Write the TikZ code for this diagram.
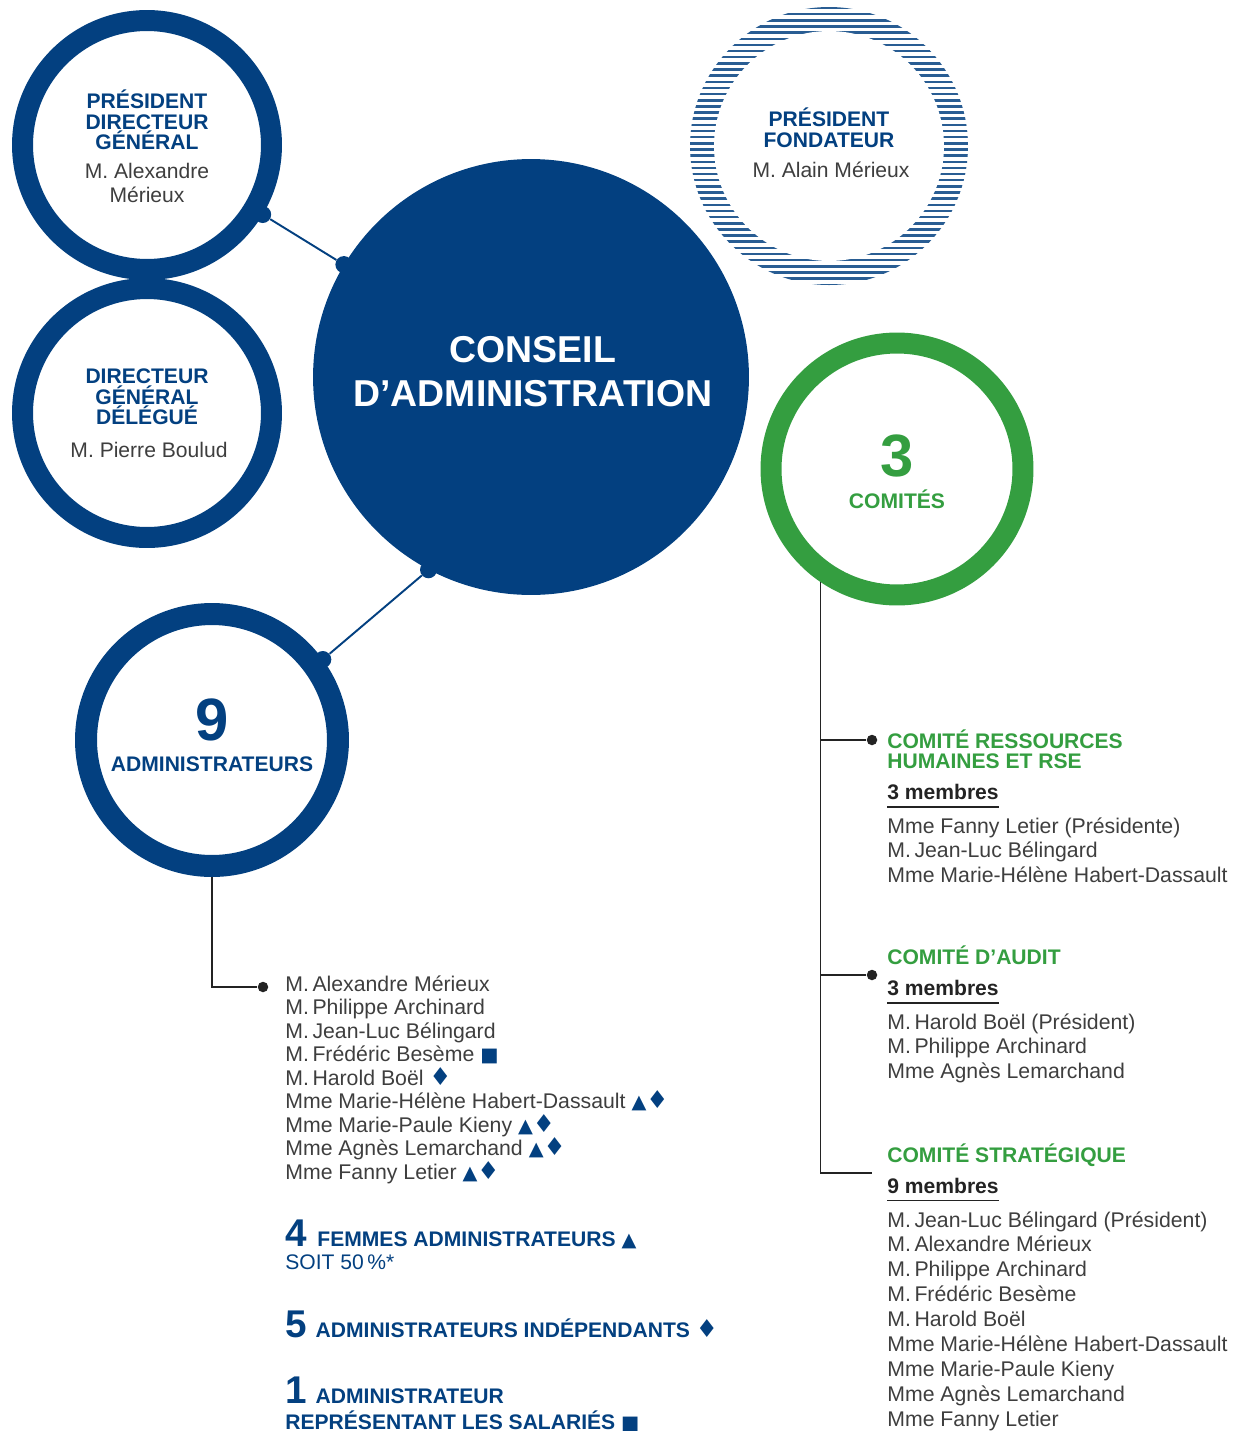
\documentclass[tikz,border=0pt]{standalone}
\usepackage{fontspec}
\setmainfont{Liberation Sans}
\newfontfamily\symfont{DejaVu Sans}
\usetikzlibrary{positioning,calc}
\definecolor{mxblue}{RGB}{3,64,128}
\definecolor{mxgreen}{RGB}{52,158,64}
\definecolor{mxgrey}{RGB}{62,62,62}
\definecolor{mxline}{RGB}{35,35,35}
\newcommand{\tri}{{\symfont\fontsize{11}{11}\selectfont\color{mxblue}▲}}
\newcommand{\dia}{{\symfont\fontsize{14}{14}\selectfont\color{mxblue}♦}}
\newcommand{\sqr}{{\symfont\fontsize{11}{11}\selectfont\color{mxblue}■}}

\begin{document}
\begin{tikzpicture}[
  x=0.02cm, y=-0.02cm,
  every node/.style={inner sep=0pt},
  ringnode/.style={circle, draw=mxblue, line width=0.42cm, minimum size=4.98cm},
  headtxt/.style={text=mxblue, align=center, font=\bfseries\fontsize{12}{11.7}\selectfont},
  nametxt/.style={text=mxgrey, align=center, font=\fontsize{12}{13.7}\selectfont},
  listtxt/.style={text=mxgrey, align=left, font=\fontsize{12.1}{13.4}\selectfont},
  comtitle/.style={text=mxgreen, align=left, font=\bfseries\fontsize{12}{11.7}\selectfont},
  membtxt/.style={text=mxline, font=\bfseries\fontsize{12}{12}\selectfont, inner ysep=4pt},
  bigdigit/.style={font=\bfseries\fontsize{34}{34}\selectfont},
  statstxt/.style={text=mxblue, align=left, font=\bfseries\fontsize{12}{12}\selectfont},
  linkline/.style={draw=mxblue, line width=1.1pt},
  linkdot/.style={circle, fill=mxblue, minimum size=0.34cm},
  treeline/.style={draw=mxline, line width=0.7pt},
  treedot/.style={circle, fill=mxline, minimum size=0.21cm},
  stripeline/.style={draw=mxblue!85, line width=0.05cm}
]
\useasboundingbox (0,0) rectangle (1234,1431);

% rings
\node[ringnode] (pdg) at (147,145) {};
\node[ringnode] (dgd) at (147,413) {};
\node[ringnode, minimum size=5.04cm, line width=0.44cm] (adm) at (212,740) {};
\node[ringnode, draw=mxgreen, minimum size=5.04cm] (com) at (897,469) {};
\node[circle, fill=mxblue, minimum size=8.72cm] (conseil) at (531,377) {};

% striped ring
\begin{scope}
  \clip (829,146) circle (139);
  \foreach \k in {0,...,46}
    \draw[stripeline] (680,{8+6.15*\k}) -- (980,{8+6.15*\k});
  \fill[white] (829,146) circle (115);
\end{scope}

% texts in circles
\node[headtxt] (pdgt) at (147,120) {PRÉSIDENT\\DIRECTEUR\\GÉNÉRAL};
\node[nametxt] (pdgn) at (147,183) {M. Alexandre\\Mérieux};
\node[headtxt] (dgdt) at (147,397) {DIRECTEUR\\GÉNÉRAL\\DÉLÉGUÉ};
\node[nametxt] (dgdn) at (149,450) {M. Pierre Boulud};
\node[headtxt] (fndt) at (829,128) {PRÉSIDENT\\FONDATEUR};
\node[nametxt] (fndn) at (831,170) {M. Alain Mérieux};
\node[text=white, align=center, font=\bfseries\fontsize{21.3}{25}\selectfont]
  (cst) at (533,372) {CONSEIL\\D’ADMINISTRATION};
\node[bigdigit, text=mxgreen] (comn) at (897,456) {3};
\node[headtxt, text=mxgreen] (comt) at (897,499) {COMITÉS};
\node[bigdigit, text=mxblue] (admn) at (212,720) {9};
\node[headtxt] (admt) at (212,764) {ADMINISTRATEURS};

% links
\node[linkdot] (l1a) at (pdg.-31) {};
\node[linkdot] (l1b) at (conseil.149) {};
\draw[linkline] (l1a) -- (l1b);
\node[linkdot] (l2a) at (conseil.-118) {};
\node[linkdot] (l2b) at (adm.36) {};
\draw[linkline] (l2a) -- (l2b);

% administrateurs
\node[treedot] (ad) at (263,987) {};
\draw[treeline] (adm.south) |- (ad);
\node[listtxt, anchor=north west] (adlist) at (285,975) {%
  M.\,Alexandre Mérieux\\
  M.\,Philippe Archinard\\
  M.\,Jean-Luc Bélingard\\
  M.\,Frédéric Besème \sqr\\
  M.\,Harold Boël \dia\\
  Mme Marie-Hélène Habert-Dassault \tri\dia\\
  Mme Marie-Paule Kieny \tri\dia\\
  Mme Agnès Lemarchand \tri\dia\\
  Mme Fanny Letier \tri\dia};

\node[statstxt, anchor=base west] (st1) at (285,1246)
  {{\fontsize{22}{22}\selectfont 4}\hspace{6pt}FEMMES ADMINISTRATEURS \tri};
\node[statstxt, anchor=base west, font=\fontsize{12}{12}\selectfont] (st1b) at (285,1269) {SOIT 50\,\%*};
\node[statstxt, anchor=base west] (st2) at (285,1337)
  {{\fontsize{22}{22}\selectfont 5}\hspace{5pt}ADMINISTRATEURS INDÉPENDANTS \dia};
\node[statstxt, anchor=base west] (st3) at (285,1403)
  {{\fontsize{22}{22}\selectfont 1}\hspace{5pt}ADMINISTRATEUR};
\node[statstxt, anchor=base west] (st3b) at (285,1429) {REPRÉSENTANT LES SALARIÉS \sqr};

% comites
\node[treedot] (c1) at (872,740) {};
\node[treedot] (c2) at (872,975) {};
\coordinate (c3) at (872,1173);
\draw[treeline] (com.-124.5) |- (c3);
\draw[treeline] (com.-124.5 |- c1) -- (c1);
\draw[treeline] (com.-124.5 |- c2) -- (c2);

\node[comtitle, anchor=north west] (c1t) at (887,729) {COMITÉ RESSOURCES\\HUMAINES ET RSE};
\node[membtxt, anchor=base west] (c1m) at (887,799) {3 membres};
\draw[treeline, line width=1pt] (c1m.south west) -- (c1m.south east);
\node[listtxt, anchor=north west, font=\fontsize{12.1}{14.2}\selectfont] (c1l) at (887,817) {%
  Mme Fanny Letier (Présidente)\\
  M.\,Jean-Luc Bélingard\\
  Mme Marie-Hélène Habert-Dassault};

\node[comtitle, anchor=base west] (c2t) at (887,964) {COMITÉ D’AUDIT};
\node[membtxt, anchor=base west] (c2m) at (887,995) {3 membres};
\draw[treeline, line width=1pt] (c2m.south west) -- (c2m.south east);
\node[listtxt, anchor=north west, font=\fontsize{12.1}{14.2}\selectfont] (c2l) at (887,1013) {%
  M.\,Harold Boël (Président)\\
  M.\,Philippe Archinard\\
  Mme Agnès Lemarchand};

\node[comtitle, anchor=base west] (c3t) at (887,1162) {COMITÉ STRATÉGIQUE};
\node[membtxt, anchor=base west] (c3m) at (887,1193) {9 membres};
\draw[treeline, line width=1pt] (c3m.south west) -- (c3m.south east);
\node[listtxt, anchor=north west, font=\fontsize{12.1}{14.2}\selectfont] (c3l) at (887,1211) {%
  M.\,Jean-Luc Bélingard (Président)\\
  M.\,Alexandre Mérieux\\
  M.\,Philippe Archinard\\
  M.\,Frédéric Besème\\
  M.\,Harold Boël\\
  Mme Marie-Hélène Habert-Dassault\\
  Mme Marie-Paule Kieny\\
  Mme Agnès Lemarchand\\
  Mme Fanny Letier};

\end{tikzpicture}
\end{document}
